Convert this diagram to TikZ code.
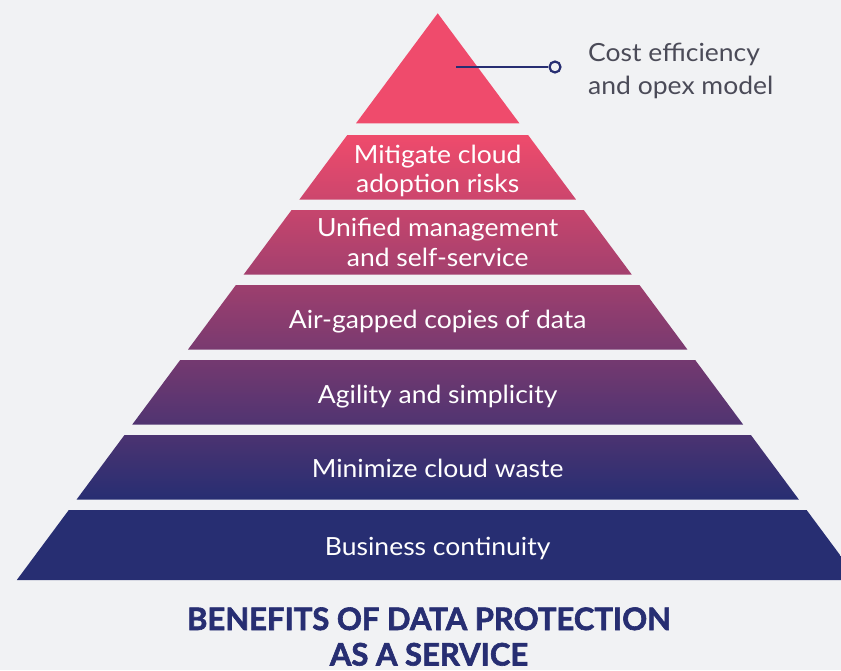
\documentclass[tikz,border=0pt]{standalone}
\usepackage{fontspec}
\setmainfont{Lato}
\newfontfamily\bodyfont{Lato}[FakeStretch=1.06]
\newfontfamily\titlefont{Lato}[BoldFeatures={FakeBold=2}]
\definecolor{bg}{RGB}{241,242,244}
\definecolor{navy}{RGB}{39,46,114}
\definecolor{pinkc}{RGB}{239,75,108}
\definecolor{labelgray}{RGB}{75,75,88}
\definecolor{c2t}{RGB}{239,75,108}
\definecolor{c2b}{RGB}{204,70,109}
\definecolor{c3t}{RGB}{198,69,109}
\definecolor{c3b}{RGB}{163,64,110}
\definecolor{c4t}{RGB}{157,63,110}
\definecolor{c4b}{RGB}{121,58,112}
\definecolor{c5t}{RGB}{116,57,112}
\definecolor{c5b}{RGB}{80,52,113}
\definecolor{c6t}{RGB}{75,51,113}
\definecolor{c6b}{RGB}{39,46,114}
\tikzset{
  layertext/.style={text=white, font=\bodyfont\fontsize{25}{29.5}\selectfont, align=center, anchor=base, inner sep=0pt},
  labeltext/.style={text=labelgray, font=\bodyfont\fontsize{25}{33}\selectfont, align=left, anchor=base west, inner sep=0pt},
  titletext/.style={text=navy, font=\titlefont\fontsize{31}{35.5}\selectfont\bfseries, align=center, anchor=base, inner sep=0pt},
}
\begin{document}
\begin{tikzpicture}[x=1pt,y=-1pt]
\fill[bg] (0,0) rectangle (841,670);
\useasboundingbox (0,0) rectangle (841,670);
% top triangle
\fill[pinkc] (437.7,13.3) -- (519.4,123.3) -- (356.0,123.3) -- cycle;
% layers
\foreach \ytop/\ybot/\ct/\cb in {135/199.5/c2t/c2b, 210/274.5/c3t/c3b, 285/349.5/c4t/c4b, 360/424.5/c5t/c5b, 435/499.5/c6t/c6b, 510/580/navy/navy}{
  \pgfmathsetmacro\hwt{0.7427*(\ytop-13.3)}
  \pgfmathsetmacro\hwb{0.7427*(\ybot-13.3)}
  \shade[top color=\ct, bottom color=\cb] (437.7-\hwt,\ytop) -- (437.7+\hwt,\ytop) -- (437.7+\hwb,\ybot) -- (437.7-\hwb,\ybot) -- cycle;
}
% texts
\node[layertext] (t2) at (437.7,192.7) {Mitigate cloud\\adoption risks};
\node[layertext] (t3) at (437.7,266.0) {Unified management\\and self-service};
\node[layertext] (t4) at (437.7,328.3) {Air-gapped copies of data};
\node[layertext] (t5) at (437.7,403.3) {Agility and simplicity};
\node[layertext] (t6) at (437.7,477.7) {Minimize cloud waste};
\node[layertext] (t7) at (437.7,555.7) {Business continuity};
% connector
\coordinate (tip) at (456,67);
\node[circle, draw=navy, line width=2.2pt, fill=bg, minimum size=11pt, inner sep=0pt] (dot) at (555,67) {};
\draw[navy, line width=2.6pt] (tip) -- (dot);
\node[labeltext] (lab) at (588,94.3) {Cost efficiency\\and opex model};
% title
\node[titletext] (title) at (429,665.5) {BENEFITS OF DATA PROTECTION\\AS A SERVICE};
\end{tikzpicture}
\end{document}
